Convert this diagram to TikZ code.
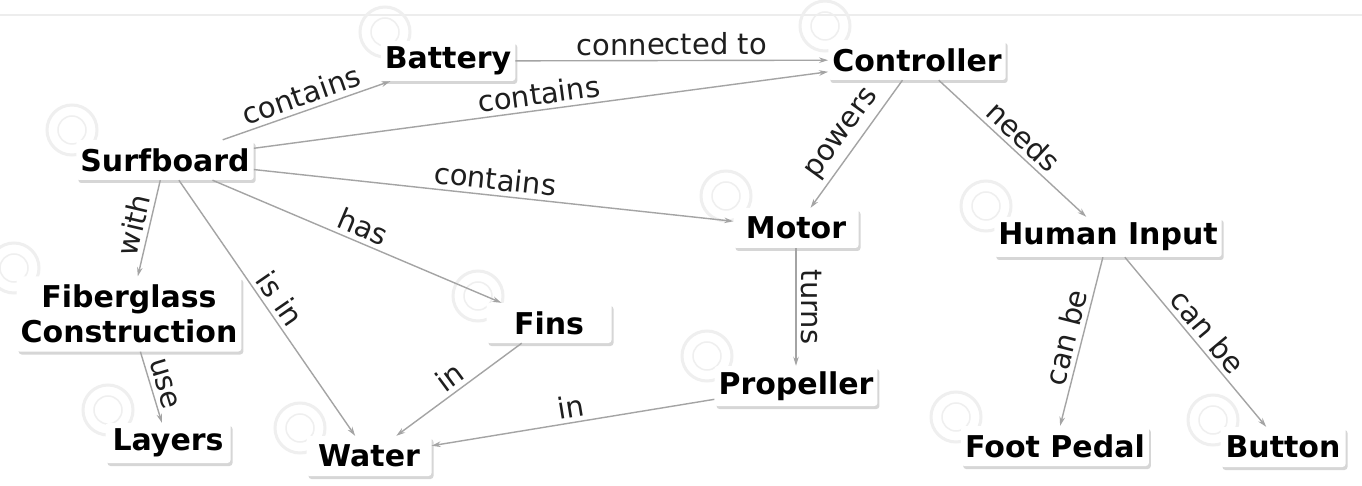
\documentclass[tikz,border=0pt]{standalone}
\usepackage{fontspec}
\setmainfont{DejaVu Sans}
\usetikzlibrary{arrows.meta,shadows}
\definecolor{edgegray}{HTML}{A4A4A4}
\definecolor{wmgray}{HTML}{EFEFEF}
\definecolor{labelcol}{HTML}{1E1E1E}
\begin{document}
\begin{tikzpicture}[x=1pt,y=-1pt,
  concept/.style={draw=none, fill=white, rounded corners=3pt,
    font=\fontsize{30}{35}\selectfont\bfseries, text=black,
    inner xsep=4pt, inner ysep=4pt, minimum width=125pt, minimum height=40pt,
    drop shadow={shadow xshift=2pt, shadow yshift=-3pt, fill=black, opacity=0.16}},
  rel/.style={draw=edgegray, line width=1.4pt, -{Stealth[length=9pt,width=5.5pt]}},
  lbl/.style={font=\fontsize{29}{35}\selectfont, text=labelcol, sloped, above, inner sep=4.5pt, midway},
  wm/.style={draw=wmgray, line width=3pt}
]
\useasboundingbox (0,0) rectangle (1362,486);
\fill[white] (0,0) rectangle (1362,486);
\draw[black!7, line width=2pt] (0,15) -- (1362,15);

% faint watermark rings
\foreach \p in {(385,32),(72,130),(825,26),(726,196),(986,206),(14,268),(108,410),(300,428),(478,296),(707,356),(956,417),(1213,420)}{
  \draw[wm] \p circle (25);
  \draw[wm, line width=1.5pt] \p circle (14);
}

\node[concept] (battery) at (448,61) {Battery};
\node[concept] (controller) at (917,60) {Controller};
\node[concept] (surfboard) at (165,160) {Surfboard};
\node[concept] (motor) at (796,228) {Motor};
\node[concept] (human) at (1108,237) {Human Input};
\node[concept, align=center, minimum height=75pt] (fiber) at (129,314) {Fiberglass\\Construction};
\node[concept] (fins) at (549,323) {Fins};
\node[concept] (propeller) at (796,386) {Propeller};
\node[concept] (layers) at (168,443) {Layers};
\node[concept] (water) at (369,456) {Water};
\node[concept] (foot) at (1055,446) {Foot Pedal};
\node[concept] (button) at (1283,447) {Button};

\draw[rel] (surfboard) -- node[lbl] {contains} (battery);
\draw[rel] (battery) -- node[lbl] {connected to} (controller);
\draw[rel] (surfboard) -- node[lbl] {contains} (controller);
\draw[rel] (surfboard) -- node[lbl] {contains} (motor);
\draw[rel] (surfboard) -- node[lbl] {has} (fins);
\draw[rel] (surfboard) -- node[lbl] {with} (fiber);
\draw[rel] (surfboard) -- node[lbl] {is in} (water);
\draw[rel] (controller) -- node[lbl] {powers} (motor);
\draw[rel] (controller) -- node[lbl] {needs} (human);
\draw[rel] (motor) -- node[midway, font=\fontsize{29}{35}\selectfont, text=labelcol, rotate=-90, anchor=south, inner sep=4.5pt] {turns} (propeller);
\draw[rel] (human) -- node[lbl] {can be} (foot);
\draw[rel] (human) -- node[lbl] {can be} (button);
\draw[rel] (fiber) -- node[lbl] {use} (layers);
\draw[rel] (fins) -- node[lbl] {in} (water);
\draw[rel] (propeller) -- node[lbl] {in} (water);
\end{tikzpicture}
\end{document}
